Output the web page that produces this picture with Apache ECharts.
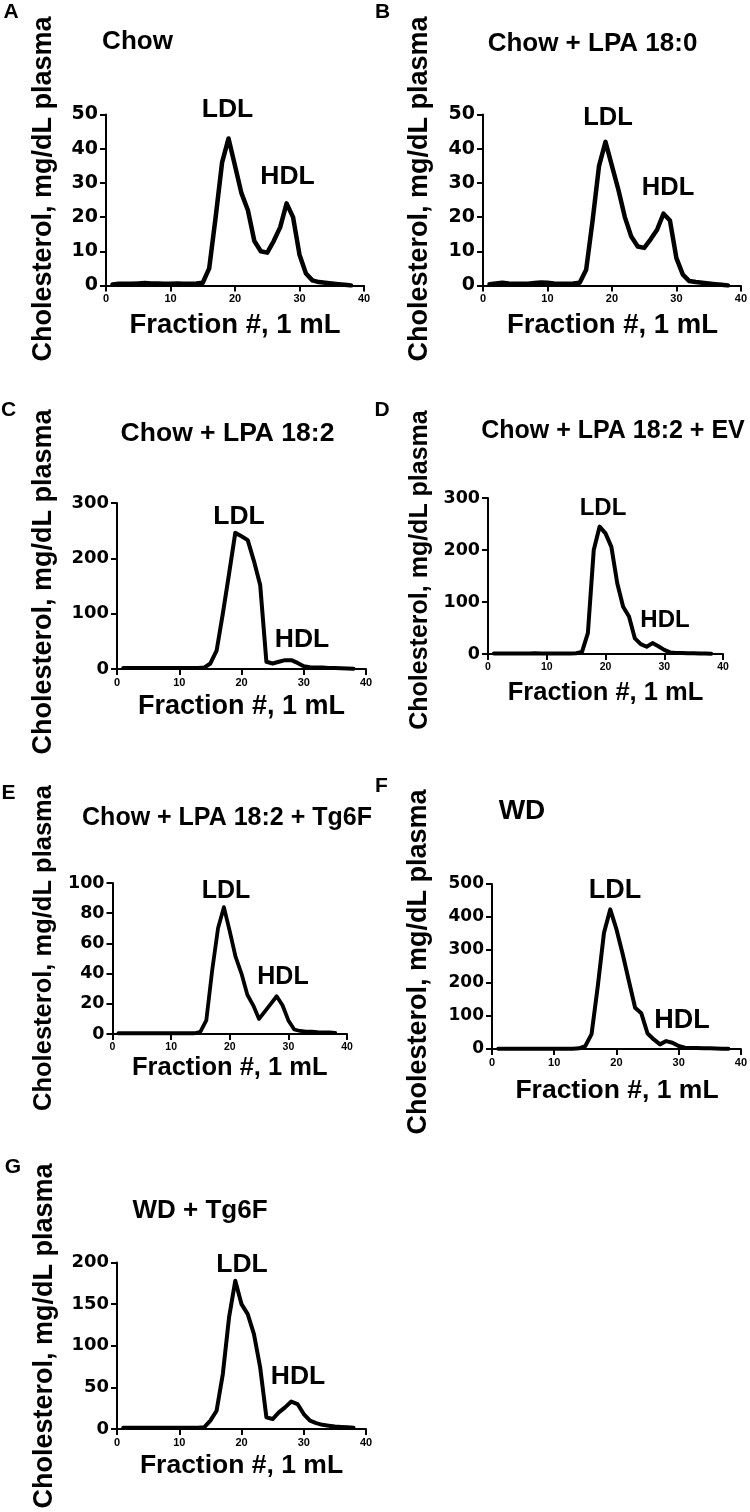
<!DOCTYPE html>
<html>
<head>
<meta charset="utf-8">
<script src="https://cdn.jsdelivr.net/npm/echarts@6/dist/echarts.min.js"></script>
<style>
html,body{margin:0;padding:0;background:#ffffff;}
#chart{width:750px;height:1512px;}
</style>
</head>
<body>
<div id="chart"></div>
<script>
// ---------------- DATA ----------------
const fractions = [1,2,3,4,5,6,7,8,9,10,11,12,13,14,15,16,17,18,19,20,21,22,23,24,25,26,27,28,29,30,31,32,33,34,35,36,37,38];
const xTicks = [0, 10, 20, 30, 40];

const chow =           [0.3,0.5,0.5,0.5,0.6,0.7,0.6,0.6,0.5,0.5,0.6,0.5,0.5,0.6,0.8,5,20,36,43,35,27,22,13,10,9.6,13,17,24,20,9,3.5,1.5,1,0.8,0.6,0.4,0.2,0];
const chowLpa180 =     [0.4,0.6,0.8,0.6,0.5,0.5,0.5,0.7,0.9,0.8,0.6,0.5,0.5,0.6,0.8,4.6,19,35,42,35,28,20,14.3,11.4,11,13.5,16.3,21,19,8,3.2,1.3,1,0.8,0.6,0.4,0.2,0];
const chowLpa182 =     [2,2,2,2,2,2,2,2,2,2,2,2,2,2.5,10,33,100,172,246,240,233,195,152,13,10,13,16,16,11,5,3,2.5,2.5,2,2,1.5,1,0.5];
const chowLpa182Ev =   [1,1,1,1,1,1,1,1.5,1,1,1,1,1,1,1.5,4,40,200,245,232,206,136,91,72,30,19,14,21,15,8,3,2,2,1.5,1.5,1,1,0.5];
const chowLpa182Tg6f = [0.5,0.5,0.5,0.5,0.5,0.5,0.5,0.5,0.5,0.5,0.5,0.5,0.5,0.5,1.5,9,42,70,84,68,51,40,26,19,10,15,20,25,19,9,3,2,1.5,1.5,1.2,1,1,0.8];
const wd =             [1,1,1,1,1,1,1,1,1,1,1,1,1,2,9,45,190,352,423,363,288,206,125,108,47,29,14,24,19,9,4,3,3,2,2,1.5,1,1];
const wdTg6f =         [1.5,1.5,1.5,1.5,1.5,1.5,1.5,1.5,1.5,1.5,1.5,1.5,1.5,2,10,22,66,134,178,150,138,114,74,14,12,20,26,33,30,18,10,7,5,4,3,2.5,2,1.5];

const yTicksA = [0, 10, 20, 30, 40, 50];
const yTicksB = [0, 10, 20, 30, 40, 50];
const yTicksC = [0, 100, 200, 300];
const yTicksD = [0, 100, 200, 300];
const yTicksE = [0, 20, 40, 60, 80, 100];
const yTicksF = [0, 100, 200, 300, 400, 500];
const yTicksG = [0, 50, 100, 150, 200];

const panelLetters = ['A', 'B', 'C', 'D', 'E', 'F', 'G'];
const panelTitles = ['Chow', 'Chow + LPA 18:0', 'Chow + LPA 18:2', 'Chow + LPA 18:2 + EV', 'Chow + LPA 18:2 + Tg6F', 'WD', 'WD + Tg6F'];
const peakNames = ['LDL', 'HDL'];
const yAxisTitle = 'Cholesterol, mg/dL plasma';
const xAxisTitle = 'Fraction #, 1 mL';

// ---------------- LAYOUT ----------------
const seriesValues = [chow, chowLpa180, chowLpa182, chowLpa182Ev, chowLpa182Tg6f, wd, wdTg6f];
const yTickSets = [yTicksA, yTicksB, yTicksC, yTicksD, yTicksE, yTicksF, yTicksG];

const layouts = [
  {grid:{left:106,top:114.5,width:258,height:171}, title:[137.5,42,26], ldl:[227.5,110], hdl:[287.5,177], peak:26.5, yTitle:[44,189,27], xTitle:[235,325,27.5], letter:[11,12.5], yTick:19, xTick:11, lw:4.5},
  {grid:{left:483,top:114.5,width:259,height:171}, title:[592.5,44,26], ldl:[608,118], hdl:[668,188], peak:25.5, yTitle:[420,189,27], xTitle:[612.5,325,27.5], letter:[382.5,12], yTick:19, xTick:11, lw:4.5},
  {grid:{left:117,top:503,width:249,height:166}, title:[227.5,434,26.5], ldl:[239,517], hdl:[302,640], peak:26.5, yTitle:[44,582,27], xTitle:[241.5,707,27], letter:[8.5,410], yTick:18, xTick:11, lw:4},
  {grid:{left:488,top:498,width:235,height:156}, title:[613,431,25], ldl:[603,508], hdl:[665,620], peak:24, yTitle:[420,570,25], xTitle:[605.5,693,25.5], letter:[382,410], yTick:17.5, xTick:10.5, lw:4},
  {grid:{left:112.5,top:883,width:234.5,height:151}, title:[227,818,25], ldl:[226,891], hdl:[283,977], peak:25, yTitle:[44,948,25.5], xTitle:[229.75,1068,25.5], letter:[8.5,793], yTick:17.5, xTick:10.5, lw:3.8},
  {grid:{left:492,top:884,width:250,height:165}, title:[522,811,28], ldl:[615,891], hdl:[682,1021], peak:27, yTitle:[419,962,27], xTitle:[617,1091,26.5], letter:[381.5,786], yTick:17, xTick:11, lw:4},
  {grid:{left:117,top:1262.5,width:249,height:166.5}, title:[200,1211,26], ldl:[242,1265], hdl:[298,1377], peak:26.5, yTitle:[45,1336,27], xTitle:[241.5,1466,26.5], letter:[13,1167], yTick:18, xTick:11, lw:4}
];

const SANS = '"Liberation Sans", Arial, Helvetica, sans-serif';
const TICKFONT = '"DejaVu Sans", "Liberation Sans", sans-serif';

function textEl(str, x, y, size, rot) {
  return {
    type: 'text', x: x, y: y, rotation: rot || 0, silent: true,
    style: {
      text: str, fill: '#000',
      font: 'bold ' + size + 'px ' + SANS,
      align: 'center', verticalAlign: 'middle',
      textAlign: 'center', textVerticalAlign: 'middle'
    }
  };
}

const grids = [], xAxes = [], yAxes = [], series = [], graphics = [];
layouts.forEach(function (L, i) {
  grids.push(Object.assign({containLabel: false}, L.grid));
  const yt = yTickSets[i];
  xAxes.push({
    type: 'value', gridIndex: i,
    min: xTicks[0], max: xTicks[xTicks.length - 1], interval: xTicks[1] - xTicks[0],
    axisLine: {show: true, onZero: false, lineStyle: {color: '#000', width: 2}},
    axisTick: {show: true, inside: false, length: 6, lineStyle: {color: '#000', width: 2}},
    axisLabel: {show: true, margin: 8, color: '#000', fontWeight: 'bold', fontSize: L.xTick, fontFamily: SANS},
    splitLine: {show: false}
  });
  yAxes.push({
    type: 'value', gridIndex: i,
    min: yt[0], max: yt[yt.length - 1], interval: yt[1] - yt[0],
    axisLine: {show: true, onZero: false, lineStyle: {color: '#000', width: 2}},
    axisTick: {show: true, inside: false, length: 6, lineStyle: {color: '#000', width: 2}},
    axisLabel: {show: true, margin: 8, color: '#000', fontWeight: 'bold', fontSize: L.yTick, fontFamily: TICKFONT},
    splitLine: {show: false}
  });
  series.push({
    type: 'line', xAxisIndex: i, yAxisIndex: i,
    name: panelTitles[i],
    data: fractions.map(function (f, k) { return [f, seriesValues[i][k]]; }),
    showSymbol: false, symbol: 'none', smooth: false, silent: true,
    lineStyle: {color: '#000', width: L.lw, join: 'round', cap: 'round'}
  });
  graphics.push(textEl(panelLetters[i], L.letter[0], L.letter[1], 21));
  graphics.push(textEl(panelTitles[i], L.title[0], L.title[1], L.title[2]));
  graphics.push(textEl(peakNames[0], L.ldl[0], L.ldl[1], L.peak));
  graphics.push(textEl(peakNames[1], L.hdl[0], L.hdl[1], L.peak));
  graphics.push(textEl(yAxisTitle, L.yTitle[0], L.yTitle[1], L.yTitle[2], Math.PI / 2));
  graphics.push(textEl(xAxisTitle, L.xTitle[0], L.xTitle[1], L.xTitle[2]));
});

const chart = echarts.init(document.getElementById('chart'), null, {renderer: 'canvas', width: 750, height: 1512});
chart.setOption({
  backgroundColor: '#ffffff',
  animation: false,
  grid: grids,
  xAxis: xAxes,
  yAxis: yAxes,
  series: series,
  graphic: graphics
});
</script>
</body>
</html>
